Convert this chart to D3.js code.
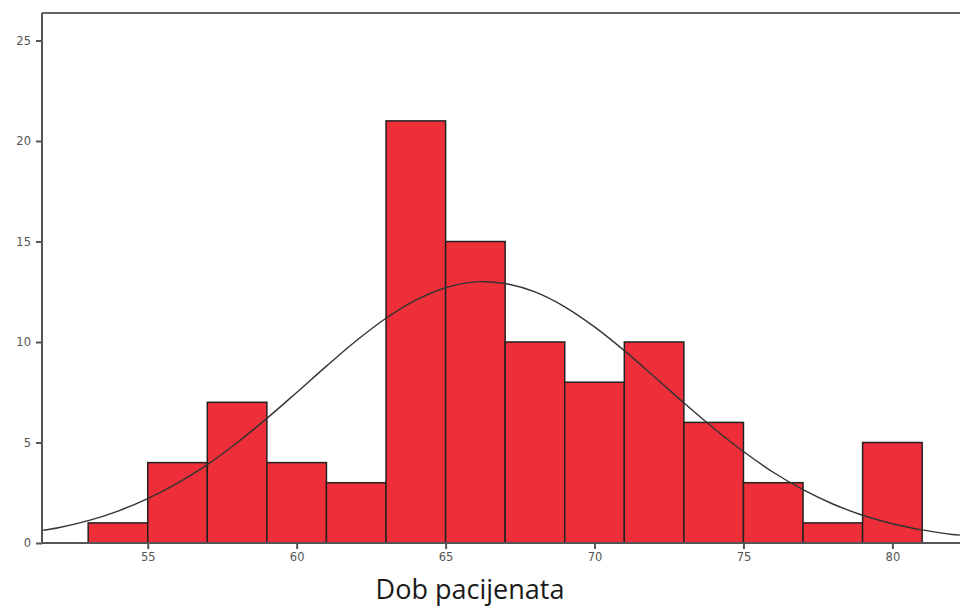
<!DOCTYPE html>
<html lang="bs">
<head>
  <meta charset="utf-8">
  <title>Dob pacijenata</title>
  <script src="https://d3js.org/d3.v7.min.js"></script>
  <style>
    body { margin: 0; background: #fff; }
    .bar { fill: #ee2f3a; stroke: #222; stroke-width: 1.5; }
    .curve { fill: none; stroke: #333; stroke-width: 1.4; }
    .axis path, .axis line { stroke: #555; stroke-width: 2; }
    .axis text { fill: #555; font-family: "DejaVu Sans", sans-serif; font-size: 11.5px; }
    .title { font-family: "Open Sans", "Noto Sans", sans-serif; font-size: 27px; fill: #1a1a1a; }
  </style>
</head>
<body>
<script>
  // histogram bins (age, width 2) and counts
  const binStarts = [53, 55, 57, 59, 61, 63, 65, 67, 69, 71, 73, 75, 77, 79];
  const binWidth = 2;
  const counts = [1, 4, 7, 4, 3, 21, 15, 10, 8, 10, 6, 3, 1, 5];

  // normal curve
  const curveX = [51.45, 52, 53, 54, 55, 56, 57, 58, 59, 60, 61, 62, 63, 64, 65, 66, 66.3, 67, 68, 69, 70, 71, 72, 73, 74, 75, 76, 77, 78, 79, 80, 81, 82, 82.3];
  const curveY = [0.63, 0.76, 1.11, 1.59, 2.21, 2.98, 3.9, 4.99, 6.2, 7.49, 8.8, 10.06, 11.18, 12.08, 12.7, 12.99, 13.0, 12.91, 12.49, 11.75, 10.75, 9.57, 8.28, 6.97, 5.71, 4.55, 3.52, 2.65, 1.94, 1.38, 0.96, 0.65, 0.42, 0.39];

  const xTicks = [55, 60, 65, 70, 75, 80];
  const yTicks = [0, 5, 10, 15, 20, 25];
  const xLabel = "Dob pacijenata";

  const width = 960, height = 608;
  const plotLeft = 42, plotTop = 13, plotRight = 960, plotBottom = 543;

  const svg = d3.select("body").append("svg")
    .attr("width", width)
    .attr("height", height);

  const x = d3.scaleLinear().domain([51.45, 82.27]).range([plotLeft, plotRight]);
  const y = d3.scaleLinear().domain([0, 25]).range([plotBottom, 40.5]);

  // top frame line
  svg.append("line")
    .attr("x1", plotLeft).attr("x2", plotRight)
    .attr("y1", plotTop).attr("y2", plotTop)
    .attr("stroke", "#666").attr("stroke-width", 2);

  // bars
  svg.selectAll(".bar")
    .data(binStarts)
    .enter().append("rect")
    .attr("class", "bar")
    .attr("x", d => x(d))
    .attr("width", d => x(d + binWidth) - x(d))
    .attr("y", (d, i) => y(counts[i]))
    .attr("height", (d, i) => y(0) - y(counts[i]));

  // normal curve
  const line = d3.line()
    .x(d => x(d[0]))
    .y(d => y(d[1]))
    .curve(d3.curveCatmullRom);
  svg.append("path")
    .attr("class", "curve")
    .attr("d", line(curveX.map((v, i) => [v, curveY[i]])));

  // x axis
  const xAxis = svg.append("g")
    .attr("class", "axis")
    .attr("transform", "translate(0," + plotBottom + ")")
    .call(d3.axisBottom(x).tickValues(xTicks).tickSize(6).tickSizeOuter(0).tickPadding(4));
  xAxis.select(".domain").attr("d", "M" + plotLeft + ",0H" + plotRight);

  // y axis
  const yAxis = svg.append("g")
    .attr("class", "axis")
    .attr("transform", "translate(" + plotLeft + ",0)")
    .call(d3.axisLeft(y).tickValues(yTicks).tickSize(6).tickSizeOuter(0).tickPadding(5));
  yAxis.select(".domain").attr("d", "M0," + plotTop + "V" + plotBottom);

  // axis title
  svg.append("text")
    .attr("class", "title")
    .attr("x", 470)
    .attr("y", 599)
    .attr("text-anchor", "middle")
    .text(xLabel);
</script>
</body>
</html>
